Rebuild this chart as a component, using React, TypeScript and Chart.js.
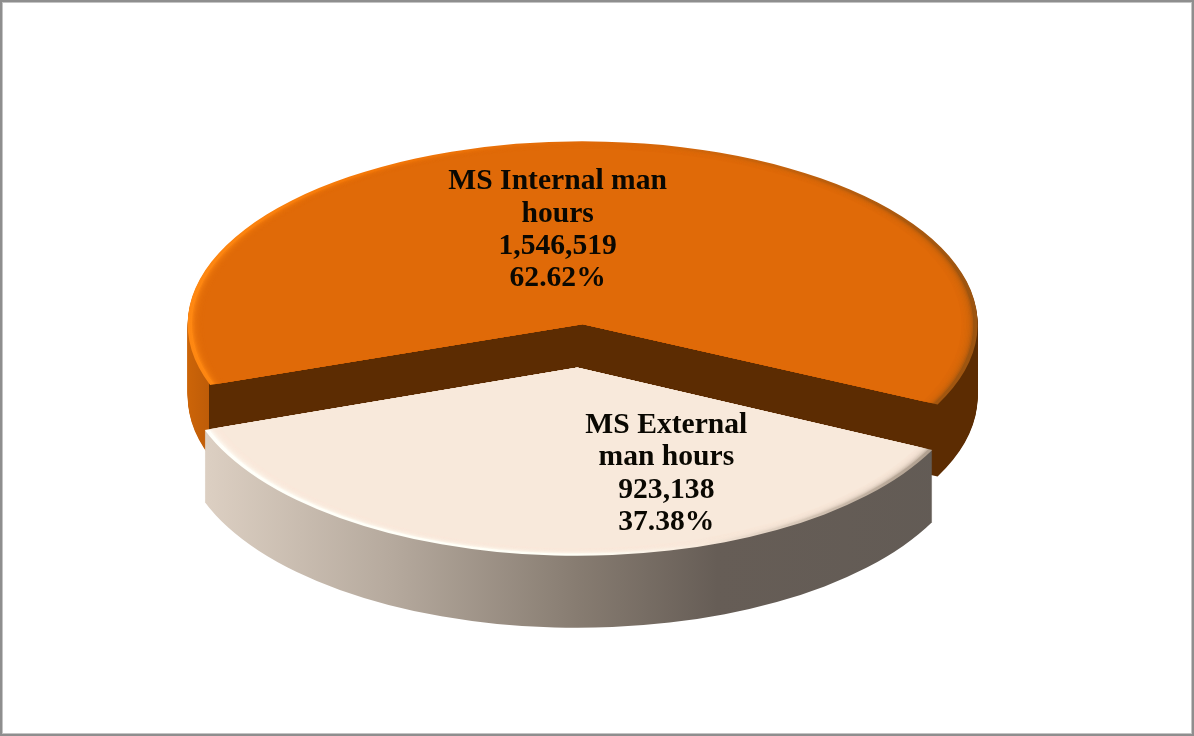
import React, { useEffect, useRef } from "react";
import { Chart, registerables } from "chart.js";

Chart.register(...registerables);

// ---- data ----
const categories = ["MS Internal man hours", "MS External man hours"];
const categoryLines = [["MS Internal man", "hours"], ["MS External", "man hours"]];
const manHours = [1546519, 923138];

// ---- styling ----
const SQUASH = [0.463, 0.477];
const DEPTH = 72;
const EXPLODE = 46;
const RADIUS = 395;
const ROTATION = 250.6;
const FACE = ["#E06A08", "#F8E9DB"];
const WALL_BROWN = "#5C2C02";
const LABEL_SHIFT = [[-25, -94], [89, 106.5]];
const FONT = 'bold 29.6px "Liberation Serif"';
const LINE_STEP = 32.4;

function sideGradient(ctx: CanvasRenderingContext2D, el: any, i: number) {
  const left = el.x - RADIUS;
  const g = ctx.createLinearGradient(left, 0, el.x + RADIUS, 0);
  const at = (x: number) => Math.min(1, Math.max(0, (x - left) / (2 * RADIUS)));
  if (i === 0) {
    const corner = at(el.x + RADIUS * Math.cos(el.startAngle) - 1);
    g.addColorStop(0, "#CC6408");
    g.addColorStop(corner, "#BE5C08");
    g.addColorStop(Math.min(1, corner + 0.0001), WALL_BROWN);
    g.addColorStop(1, WALL_BROWN);
  } else {
    g.addColorStop(0, "#E2D5C8");
    g.addColorStop(at(205), "#DDD0C3");
    g.addColorStop(at(400), "#B4A89C");
    g.addColorStop(at(580), "#877C71");
    g.addColorStop(at(720), "#665D56");
    g.addColorStop(1, "#625B55");
  }
  return g;
}

function rimGradient(ctx: CanvasRenderingContext2D, el: any, i: number) {
  const g = ctx.createLinearGradient(el.x - RADIUS, 0, el.x + RADIUS, 0);
  if (i === 0) {
    g.addColorStop(0, "#FF8812");
    g.addColorStop(0.22, "#F47808");
    g.addColorStop(0.5, "#E06A08");
    g.addColorStop(0.75, "#C4620C");
    g.addColorStop(1, "#9C5410");
  } else {
    g.addColorStop(0, "#FFFFFA");
    g.addColorStop(0.5, "#FFFFF6");
    g.addColorStop(0.66, "#F8E9DB");
    g.addColorStop(0.9, "#B8A898");
    g.addColorStop(1, "#A89888");
  }
  return g;
}

const pie3d = {
  id: "pie3d",
  beforeDatasetsDraw(chart: any) {
    const ctx: CanvasRenderingContext2D = chart.ctx;
    const arcs = chart.getDatasetMeta(0).data;
    arcs.forEach((el: any, i: number) => {
      const base = el.options;
      const baseR = el.outerRadius;
      const mid = (el.startAngle + el.endAngle) / 2;
      const paint = (fill: any, dy: number, inset: number, alpha: number) => {
        el.options = Object.assign({}, base, { backgroundColor: fill });
        el.outerRadius = baseR - inset;
        ctx.save();
        ctx.globalAlpha = alpha;
        ctx.translate(0, dy + el.y);
        ctx.scale(1, SQUASH[i]);
        ctx.translate(0, -el.y);
        ctx.translate(Math.cos(mid) * EXPLODE, Math.sin(mid) * EXPLODE);
        el.draw(ctx);
        ctx.restore();
      };
      const side = sideGradient(ctx, el, i);
      for (let dy = DEPTH; dy >= 1; dy -= 1) paint(side, dy, 0, 1);
      paint(rimGradient(ctx, el, i), 0, 0, 1);
      for (let k = 1; k <= 8; k += 1) paint(FACE[i], 0, 3 + k * 1.4, 0.35);
      paint(FACE[i], 0, 16, 1);
      el.options = base;
      el.outerRadius = baseR;
    });
    return false;
  },
  afterDraw(chart: any) {
    const ctx: CanvasRenderingContext2D = chart.ctx;
    const arcs = chart.getDatasetMeta(0).data;
    const total = manHours.reduce((a, b) => a + b, 0);
    ctx.save();
    ctx.font = FONT;
    ctx.fillStyle = "#0A0802";
    ctx.textAlign = "center";
    ctx.textBaseline = "middle";
    arcs.forEach((el: any, i: number) => {
      const mid = (el.startAngle + el.endAngle) / 2;
      const cx = el.x + Math.cos(mid) * EXPLODE + LABEL_SHIFT[i][0];
      const cy = el.y + Math.sin(mid) * EXPLODE * SQUASH[i] + LABEL_SHIFT[i][1];
      const lines = [
        ...categoryLines[i],
        manHours[i].toLocaleString("en-US"),
        ((manHours[i] / total) * 100).toFixed(2) + "%",
      ];
      lines.forEach((t, n) => {
        ctx.fillText(t, cx, cy + (n - (lines.length - 1) / 2) * LINE_STEP);
      });
    });
    ctx.restore();
  },
};

export default function App() {
  const ref = useRef<HTMLCanvasElement | null>(null);
  useEffect(() => {
    const chart = new Chart(ref.current as HTMLCanvasElement, {
      type: "pie",
      data: {
        labels: categories,
        datasets: [{ data: manHours, backgroundColor: FACE, borderWidth: 0 }],
      },
      options: {
        animation: false,
        responsive: false,
        events: [],
        rotation: ROTATION,
        radius: RADIUS,
        layout: { padding: { right: 34, bottom: 45 } },
        plugins: { legend: { display: false }, tooltip: { enabled: false } },
      } as any,
      plugins: [pie3d as any],
    });
    return () => chart.destroy();
  }, []);
  return (
    <div style={{ position: "fixed", left: 0, top: 0, width: 1194, height: 736, background: "#fff" }}>
      <canvas ref={ref} width={1194} height={736} style={{ display: "block", width: 1194, height: 736 }} />
      <div
        style={{
          position: "absolute",
          inset: 0,
          boxSizing: "border-box",
          border: "2px solid #8E8E8E",
          boxShadow: "inset 0 0 0 1px #C4C4C4",
          pointerEvents: "none",
        }}
      />
    </div>
  );
}
